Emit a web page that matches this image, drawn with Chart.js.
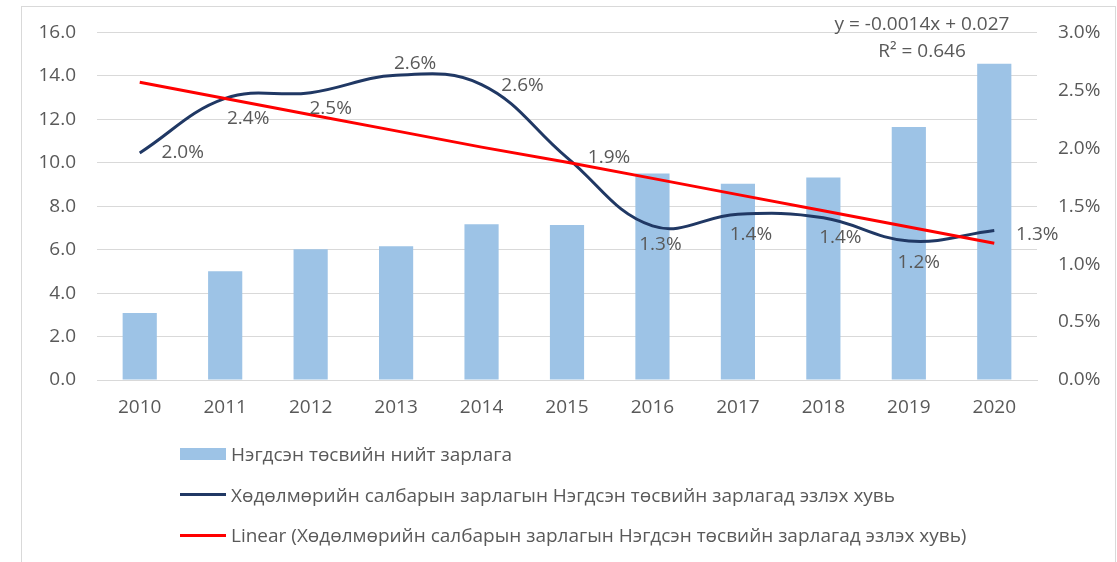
<!DOCTYPE html>
<html><head><meta charset="utf-8">
<script src="https://cdn.jsdelivr.net/npm/chart.js@4.4.0/dist/chart.umd.min.js"></script>
<style>
html,body{margin:0;padding:0;background:#fff;}
#wrap{position:relative;width:1117px;height:562px;overflow:hidden;font-family:"Open Sans",sans-serif;}
#frame{position:absolute;left:21px;top:6px;width:1095px;height:600px;border:1px solid #d9d9d9;box-sizing:border-box;}
#c{position:absolute;left:0;top:0;}
#legend{position:absolute;left:180px;top:434px;color:#595959;font-size:19px;}
.item{display:flex;align-items:center;height:40.5px;}
.sw{width:46px;margin-right:5px;}
.eq{position:absolute;color:#595959;font-size:19px;text-align:center;width:240px;}
</style></head>
<body>
<div id="wrap">
<div id="frame"></div>
<canvas id="c" width="1117" height="562"></canvas>
<div class="eq" style="left:802px;top:10px;">y = -0.0014x + 0.027</div>
<div class="eq" style="left:802px;top:37px;">R² = 0.646</div>
<div id="legend">
  <div class="item"><div class="sw" style="height:12px;background:#9dc3e6"></div><span>Нэгдсэн төсвийн нийт зарлага</span></div>
  <div class="item"><div class="sw" style="height:3px;background:#203864"></div><span>Хөдөлмөрийн салбарын зарлагын Нэгдсэн төсвийн зарлагад эзлэх хувь</span></div>
  <div class="item"><div class="sw" style="height:3px;background:#ff0000"></div><span>Linear (Хөдөлмөрийн салбарын зарлагын Нэгдсэн төсвийн зарлагад эзлэх хувь)</span></div>
</div>
</div>
<script>
const years = ['2010','2011','2012','2013','2014','2015','2016','2017','2018','2019','2020'];
const budgetTotal = [3.08, 5.01, 6.02, 6.16, 7.17, 7.13, 9.5, 9.03, 9.32, 11.65, 14.56];
const laborShare = [1.96, 2.43, 2.48, 2.63, 2.55, 1.92, 1.33, 1.43, 1.40, 1.20, 1.29];
const shareLabels = ['2.0%','2.4%','2.5%','2.6%','2.6%','1.9%','1.3%','1.4%','1.4%','1.2%','1.3%'];
const trendShare = [2.57, 2.43, 2.29, 2.15, 2.01, 1.88, 1.74, 1.60, 1.46, 1.32, 1.18];
const leftTicks = [0, 2, 4, 6, 8, 10, 12, 14, 16];
const rightTicks = [0, 0.5, 1, 1.5, 2, 2.5, 3];
const seriesNames = ['Нэгдсэн төсвийн нийт зарлага',
  'Хөдөлмөрийн салбарын зарлагын Нэгдсэн төсвийн зарлагад эзлэх хувь',
  'Linear (Хөдөлмөрийн салбарын зарлагын Нэгдсэн төсвийн зарлагад эзлэх хувь)'];
const labelOffsets = [[43,0],[23,20],[20,16],[19,-12],[41,1],[42,0],[8,19],[13,20],[17,20],[10,22],[43,4]];

const txt = '#595959';
const tickFont = {family:'"Open Sans", sans-serif', size:19};

const labelPlugin = {
  id:'pctLabels',
  afterDatasetsDraw(chart){
    const meta = chart.getDatasetMeta(1);
    const ctx = chart.ctx;
    ctx.save();
    ctx.font = '19px "Open Sans", sans-serif';
    ctx.fillStyle = txt;
    ctx.textAlign = 'center';
    ctx.textBaseline = 'middle';
    meta.data.forEach((p,i)=>{
      ctx.fillText(shareLabels[i], p.x + labelOffsets[i][0], p.y + labelOffsets[i][1]);
    });
    ctx.restore();
  }
};

new Chart(document.getElementById('c'), {
  data:{
    labels: years,
    datasets:[
      {type:'bar', label:seriesNames[0], data:budgetTotal, backgroundColor:'#9dc3e6', yAxisID:'y',
       barPercentage:0.4, categoryPercentage:1, order:2},
      {type:'line', label:seriesNames[1], data:laborShare, borderColor:'#203864', borderWidth:3,
       pointRadius:0, tension:0.4, fill:false, yAxisID:'y1', order:1},
      {type:'line', label:seriesNames[2], data:trendShare, borderColor:'#ff0000', borderWidth:3,
       pointRadius:0, tension:0, fill:false, yAxisID:'y1', order:0}
    ]
  },
  options:{
    responsive:false, animation:false,
    layout:{padding:{top:32,left:0,right:0,bottom:132}},
    plugins:{legend:{display:false}, tooltip:{enabled:false}},
    scales:{
      x:{offset:true, grid:{display:false, drawTicks:false}, border:{color:'#d9d9d9'},
         ticks:{color:txt, font:tickFont, padding:16},
         afterFit(s){ s.height = 50; }},
      y:{position:'left', min:0, max:16, afterBuildTicks(s){ s.ticks = leftTicks.map(v=>({value:v})); },
         grid:{color:'#d9d9d9', drawTicks:false}, border:{display:false},
         ticks:{color:txt, font:tickFont, padding:21, callback:v=>v.toFixed(1)},
         afterFit(s){ s.width = 97; }},
      y1:{position:'right', min:0, max:3, afterBuildTicks(s){ s.ticks = rightTicks.map(v=>({value:v})); },
         grid:{display:false, drawTicks:false}, border:{display:false},
         ticks:{color:txt, font:tickFont, padding:21, callback:v=>v.toFixed(1)+'%'},
         afterFit(s){ s.width = 80; }}
    }
  },
  plugins:[labelPlugin]
});
</script>
</body></html>
